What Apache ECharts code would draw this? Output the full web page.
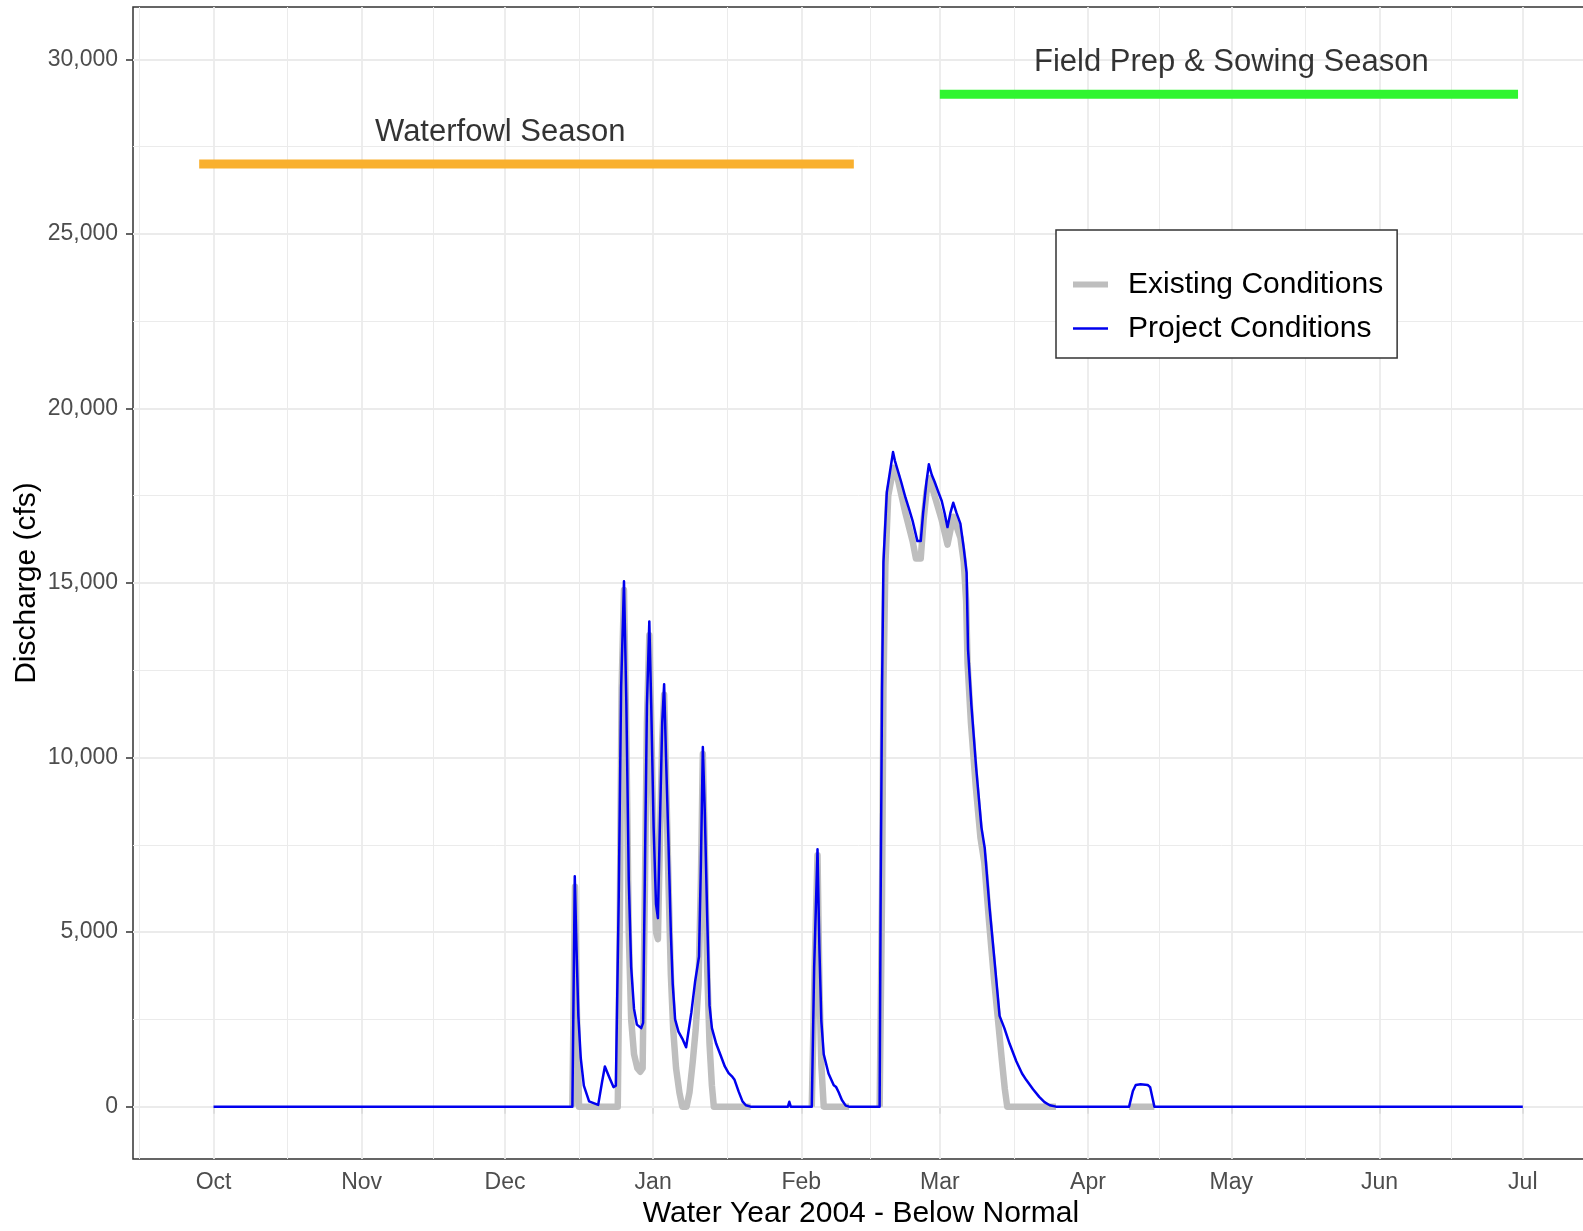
<!DOCTYPE html>
<html><head><meta charset="utf-8">
<script src="https://cdn.jsdelivr.net/npm/echarts@6/dist/echarts.min.js"></script>
<style>html,body{margin:0;padding:0;background:#fff;overflow:hidden}#c{width:1583px;height:1231px}</style>
</head><body><div id="c"></div>
<script>
// ---------- DATA (days since 2003-10-01, values in cfs; null = no line drawn) ----------
const originDate = '2003-10-01';

const existingDays = [75.1, 75.2, 75.65, 76.0, 76.5, 84.6, 85.0, 85.4, 85.9, 86.4, 86.9, 87.4, 88.0, 88.7, 89.3, 89.8, 90.3, 90.7, 91.2, 91.6, 92.1, 92.6, 93.0, 93.4, 93.9, 94.3, 94.7, 95.2, 95.7, 96.2, 96.8, 97.5, 98.1, 99.0, 99.6, 100.3, 100.9, 101.5, 102.0, 102.4, 102.8, 103.3, 103.8, 104.3, 104.7, 112.4, 118.0, 125.2, 125.3, 125.8, 126.4, 126.8, 127.2, 127.7, 133.0, 136.0, 139.4, 139.6, 139.9, 140.2, 140.6, 141.2, 142.3, 143.0, 144.8, 146.3, 147.0, 148.0, 148.6, 149.2, 149.8, 150.9, 152.4, 153.6, 154.8, 156.3, 157.0, 157.5, 157.8, 158.5, 159.5, 160.5, 161.3, 162.3, 163.3, 164.3, 165.0, 165.6, 166.1, 176.3, 183.0, 191.6, 196.9];
const existingVals = [0, 0, 6300, 3000, 0, 0, 5000, 12000, 14800, 10500, 5000, 2500, 1500, 1100, 1000, 1100, 6500, 11000, 13500, 11000, 7500, 5000, 4800, 7500, 10500, 11800, 9500, 6500, 3800, 2200, 1100, 400, 0, 0, 400, 1300, 2200, 3500, 6500, 10100, 7500, 4000, 1800, 600, 0, 0, null, 0, 0, 4000, 7200, 3500, 1200, 0, 0, null, 0, 0, 6000, 12000, 15500, 17500, 18300, 18100, 17000, 16200, 15700, 15700, 16800, 17600, 18000, 17500, 16800, 16100, 16900, 16300, 15600, 14500, 12700, 11000, 9200, 7700, 7000, 5300, 3700, 2300, 1300, 500, 0, 0, null, 0, 0];

const projectDays = [0, 75.1, 75.6, 75.95, 76.35, 76.85, 77.5, 78.6, 80.5, 81.3, 81.9, 82.8, 83.7, 84.2, 84.8, 85.3, 85.9, 86.4, 86.9, 87.4, 88.0, 88.6, 89.5, 89.9, 90.3, 90.7, 91.2, 91.6, 92.1, 92.6, 93.0, 93.4, 93.9, 94.3, 94.7, 95.2, 95.7, 96.1, 96.6, 97.3, 98.1, 98.9, 99.3, 100.0, 100.8, 101.6, 102.0, 102.4, 102.8, 103.3, 103.8, 104.3, 105.2, 106.1, 107.0, 107.8, 108.6, 109.0, 109.9, 110.7, 111.4, 112.4, 120.2, 120.5, 120.8, 125.2, 125.7, 126.4, 126.8, 127.2, 127.7, 128.7, 129.8, 130.3, 130.8, 131.5, 132.3, 133.0, 139.4, 139.6, 139.9, 140.2, 140.9, 142.2, 142.6, 143.0, 143.9, 144.8, 145.6, 146.3, 147.3, 148.0, 148.5, 149.2, 149.7, 150.3, 150.9, 151.7, 152.4, 153.0, 153.6, 154.2, 154.8, 155.5, 156.3, 157.0, 157.6, 157.9, 158.6, 159.6, 160.7, 161.4, 162.4, 163.5, 164.5, 165.5, 166.6, 168.0, 169.2, 170.1, 171.5, 172.8, 173.9, 175.0, 176.3, 191.6, 192.4, 193.0, 194.0, 195.5, 196.0, 196.5, 196.9, 274];
const projectVals = [0, 0, 6600, 4600, 2600, 1400, 600, 150, 50, 700, 1150, 850, 560, 600, 6000, 12000, 15050, 11500, 6500, 4000, 2800, 2350, 2250, 2400, 7000, 11500, 13900, 11500, 8000, 5800, 5400, 8000, 11000, 12100, 10000, 7600, 5000, 3500, 2500, 2150, 1950, 1700, 1700, 2700, 3600, 4300, 7000, 10300, 8500, 5500, 2900, 2250, 1800, 1480, 1150, 960, 850, 780, 430, 150, 40, 0, 0, 140, 0, 0, 4000, 7370, 4500, 2450, 1500, 950, 610, 560, 420, 190, 30, 0, 0, 5700, 11900, 15600, 17600, 18750, 18500, 18450, 17900, 17450, 17100, 16780, 16200, 16200, 17000, 17900, 18400, 18100, 17900, 17600, 17350, 17000, 16600, 17000, 17300, 17000, 16700, 16000, 15300, 13100, 11500, 9700, 8000, 7400, 5700, 4100, 2600, 2250, 1800, 1300, 950, 760, 500, 280, 130, 40, 0, 0, 450, 620, 640, 620, 560, 250, 0, 0];

const waterfowlDates = ['2003-09-28', '2004-02-12'];
const waterfowlLevel = 27000;
const fieldPrepDates = ['2004-03-01', '2004-06-30'];
const fieldPrepLevel = 29000;

const annotationTexts = ['Waterfowl Season', 'Field Prep & Sowing Season'];
const annotationDates = ['2003-11-30', '2004-05-01'];
const annotationLevels = [28000, 30000];

const xTickDates = ['2003-10-01', '2003-11-01', '2003-12-01', '2004-01-01', '2004-02-01', '2004-03-01', '2004-04-01', '2004-05-01', '2004-06-01', '2004-07-01'];
const xTickLabels = ['Oct', 'Nov', 'Dec', 'Jan', 'Feb', 'Mar', 'Apr', 'May', 'Jun', 'Jul'];
const yTicks = [0, 5000, 10000, 15000, 20000, 25000, 30000];
const yMinorTicks = [2500, 7500, 12500, 17500, 22500, 27500];

const seriesNames = ['Existing Conditions', 'Project Conditions'];
const xTitle = 'Water Year 2004 - Below Normal';
const yTitle = 'Discharge (cfs)';

// ---------- helpers ----------
const DAY = 86400000;
function toTs(s) {
  const p = s.split(' ');
  const t = p[1] ? p[1] : '00:00';
  return Date.parse(p[0] + 'T' + t + ':00Z');
}
const origin = toTs(originDate);
const dayTs = d => origin + d * DAY;

const existingData = existingDays.map((d, i) => [dayTs(d), existingVals[i] === null ? '-' : existingVals[i]]);
const projectData = projectDays.map((d, i) => [dayTs(d), projectVals[i]]);
const waterfowlData = waterfowlDates.map(s => [toTs(s), waterfowlLevel]);
const fieldPrepData = fieldPrepDates.map(s => [toTs(s), fieldPrepLevel]);
const annotationData = annotationTexts.map((t, i) => ({ name: t, value: [toTs(annotationDates[i]), annotationLevels[i]] }));

const xTickTs = xTickDates.map(toTs);
// minor breaks: midpoints between month breaks (plus one before the first)
const xMinorTs = [xTickTs[0] - (xTickTs[1] - xTickTs[0]) / 2];
for (let i = 0; i < xTickTs.length - 1; i++) xMinorTs.push((xTickTs[i] + xTickTs[i + 1]) / 2);

// ggplot-like 5% expansion
const allX = projectData.concat(waterfowlData, fieldPrepData, annotationData.map(a => a.value)).map(p => p[0]);
const xLo = Math.min(...allX), xHi = Math.max(...allX);
const xMin = xLo - 0.05 * (xHi - xLo), xMax = xHi + 0.05 * (xHi - xLo);
const yLo = 0, yHi = Math.max(...annotationLevels);
const yMin = yLo - 0.05 * (yHi - yLo), yMax = yHi + 0.05 * (yHi - yLo);

const FONT = "'Liberation Sans', Arial, sans-serif";
const GRID_COL = '#EBEBEB';

const chart = echarts.init(document.getElementById('c'), null, { renderer: 'canvas' });
chart.setOption({
  animation: false,
  backgroundColor: '#ffffff',
  textStyle: { fontFamily: FONT },
  grid: {
    left: 133, top: 7, width: 1456, height: 1152,
    outerBoundsMode: 'none', containLabel: false,
    show: true, borderColor: '#333333', borderWidth: 1.5, backgroundColor: 'transparent'
  },
  legend: {
    orient: 'vertical', left: 1056, top: 230,
    padding: [39, 14, 14, 17],
    itemWidth: 35, itemHeight: 12, itemGap: 13,
    backgroundColor: '#ffffff', borderColor: '#333333', borderWidth: 1.5, borderRadius: 0,
    itemStyle: { borderWidth: 0 },
    textStyle: { fontSize: 30, color: '#000', fontFamily: FONT, lineHeight: 31, padding: [0, 0, 0, 15] },
    data: [
      { name: seriesNames[0], icon: 'path://M0,0H35V6H0Z' },
      { name: seriesNames[1], icon: 'path://M0,0H35V2.5H0Z' }
    ],
    selectedMode: false
  },
  xAxis: [{
    type: 'value', min: xMin, max: xMax, position: 'bottom', scale: true,
    name: xTitle, nameLocation: 'middle', nameGap: 40, nameMoveOverlap: false,
    nameTextStyle: { fontSize: 30, color: '#000', fontFamily: FONT },
    axisLine: { show: false },
    axisTick: { show: true, length: 7, lineStyle: { color: '#333333', width: 1.5 }, customValues: xTickTs },
    axisLabel: {
      show: true, customValues: xTickTs, margin: 12, fontSize: 23, color: '#4D4D4D', fontFamily: FONT,
      formatter: function (v) {
        let best = 0;
        for (let i = 1; i < xTickTs.length; i++) if (Math.abs(xTickTs[i] - v) < Math.abs(xTickTs[best] - v)) best = i;
        return xTickLabels[best];
      }
    },
    splitLine: { show: false }
  }],
  yAxis: [{
    type: 'value', min: yMin, max: yMax, position: 'left',
    name: yTitle, nameLocation: 'middle', nameGap: 91, nameMoveOverlap: false,
    nameTextStyle: { fontSize: 30, color: '#000', fontFamily: FONT },
    axisLine: { show: false },
    axisTick: { show: true, length: 7, lineStyle: { color: '#333333', width: 1.5 }, customValues: yTicks },
    axisLabel: {
      show: true, customValues: yTicks, margin: 15, fontSize: 23, color: '#4D4D4D', fontFamily: FONT,
      formatter: v => Number(v).toLocaleString('en-US')
    },
    splitLine: { show: false }
  }],
  series: [
    {
      name: 'grid', type: 'line', data: [], silent: true, z: 1, showSymbol: false,
      markLine: {
        silent: true, z: 1, symbol: ['none', 'none'], label: { show: false }, animation: false,
        emphasis: { disabled: true },
        data: [].concat(
          xMinorTs.map(t => ({ xAxis: t, lineStyle: { color: GRID_COL, width: 1, type: 'solid' } })),
          yMinorTicks.map(v => ({ yAxis: v, lineStyle: { color: GRID_COL, width: 1, type: 'solid' } })),
          xTickTs.map(t => ({ xAxis: t, lineStyle: { color: GRID_COL, width: 1.8, type: 'solid' } })),
          yTicks.map(v => ({ yAxis: v, lineStyle: { color: GRID_COL, width: 1.8, type: 'solid' } }))
        )
      }
    },
    {
      name: 'Waterfowl Season bar', type: 'line', data: waterfowlData, showSymbol: false, symbol: 'none', z: 3,
      lineStyle: { color: '#F9B02E', width: 9, cap: 'butt' }, silent: true
    },
    {
      name: 'Field Prep bar', type: 'line', data: fieldPrepData, showSymbol: false, symbol: 'none', z: 3,
      lineStyle: { color: '#30F530', width: 9, cap: 'butt' }, silent: true
    },
    {
      name: seriesNames[0], type: 'line', data: existingData, showSymbol: false, symbol: 'none', z: 4, connectNulls: false,
      color: '#BEBEBE', lineStyle: { color: '#BEBEBE', width: 6.5, cap: 'butt', join: 'round' }
    },
    {
      name: seriesNames[1], type: 'line', data: projectData, showSymbol: false, symbol: 'none', z: 5,
      color: '#0000EE', lineStyle: { color: '#0000EE', width: 2.5, cap: 'butt', join: 'round' }
    },
    {
      name: 'annotations', type: 'scatter', data: annotationData, symbolSize: 1, z: 6, silent: true,
      itemStyle: { color: 'rgba(0,0,0,0)' },
      label: { show: true, position: 'inside', offset: [0, 3], formatter: '{b}', fontSize: 31, color: '#000', fontFamily: FONT }
    }
  ]
});
</script>
</body></html>
